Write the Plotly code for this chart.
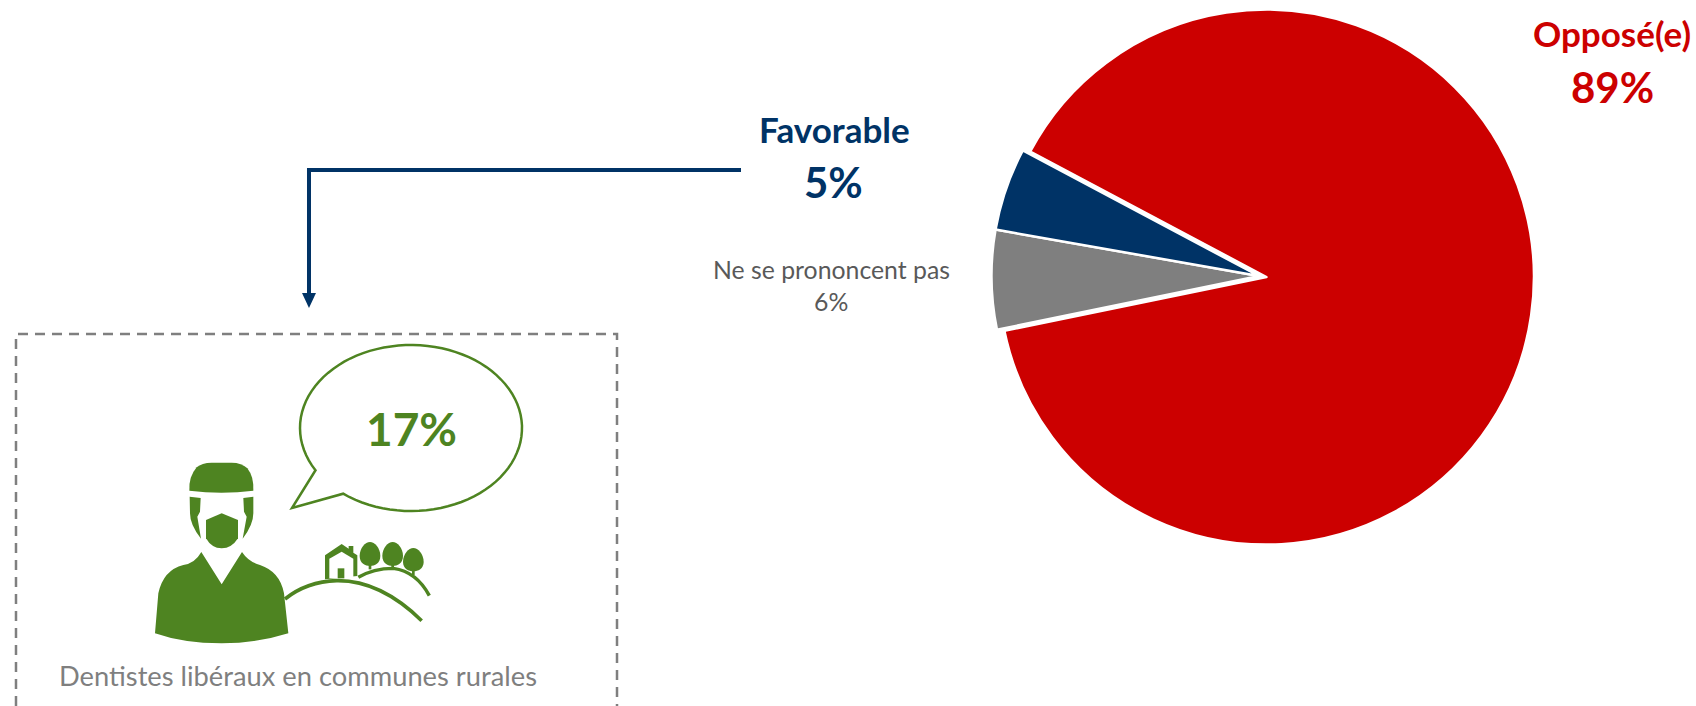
import re
import numpy as np
import plotly.graph_objects as go

W, H = 1696, 706
FONT = "Lato"
labels = ["Opposé(e)", "Ne se prononcent pas", "Favorable"]
values = [89, 6, 5]
slice_colors = ["#CC0000", "#7F7F7F", "#003366"]
GREEN = "#4E8421"
NAVY = "#003366"
GREY = "#7F7F7F"


def page(x, y):
    return x / W, 1 - y / H


def path_from(d, ox=0.0, oy=0.0, k=1.0):
    """Turn an 'x,y' path in pixels (optionally offset and scaled) into paper units."""
    def rep(m):
        px, py = page(ox + float(m.group(1)) * k, oy + float(m.group(2)) * k)
        return f"{px:.5f},{py:.5f}"
    return re.sub(r"(-?[\d.]+),(-?[\d.]+)", rep, d)


shapes = []


def add(d, fill=None, line=None, width=0, dash=None, **kw):
    s = dict(type="path", xref="paper", yref="paper", path=path_from(d, **kw),
             line=dict(width=width, color=line or "rgba(0,0,0,0)"))
    if dash:
        s["line"]["dash"] = dash
    if fill:
        s["fillcolor"] = fill
    shapes.append(s)


# connector with arrow head
add("M 741,170 L 309,170 L 309,295", line=NAVY, width=4)
add("M 302,293 L 316,293 L 309,308 Z", fill=NAVY)

# dashed frame (open at the bottom)
add("M 16,706 L 16,334 L 617,334 L 617,706", line=GREY, width=2.5, dash="10px,7px")

# speech bubble
cx, cy, rx, ry = 411, 428, 111, 83
a0 = np.arctan2((493 - cy) / ry, (344 - cx) / rx)
a1 = np.arctan2((470 - cy) / ry, (316 - cx) / rx)
if a1 > a0:
    a1 -= 2 * np.pi
angles = np.linspace(a0, a1, 90)
pts = " L ".join(f"{cx + rx*np.cos(a):.1f},{cy + ry*np.sin(a):.1f}" for a in angles)
add(f"M {pts} L 292,508 Z", line=GREEN, width=2.5, fill="white")

# dentist icon, drawn in the 3x crop space
icon = dict(ox=140, oy=450, k=1 / 3)
add("M 148,122 Q 146,80 170,52 Q 185,38 215,38 L 275,38 Q 305,38 322,55 Q 342,80 340,122 "
    "Q 245,135 148,122 Z", fill=GREEN, **icon)
add("M 149,140 L 182,144 L 180,185 L 172,200 L 183,266 Q 150,225 150,190 Z", fill=GREEN, **icon)
add("M 340,140 L 310,144 L 312,185 L 320,200 L 308,266 Q 340,225 340,190 Z", fill=GREEN, **icon)
add("M 198,210 L 245,190 L 294,210 L 294,265 Q 275,295 245,295 Q 215,295 198,265 Z", fill=GREEN, **icon)
add("M 184,306 L 245,403 L 306,306 Q 325,335 360,345 Q 420,365 432,430 L 445,550 "
    "Q 350,580 245,580 Q 130,580 45,550 L 55,430 Q 70,360 130,345 Q 165,340 184,306 Z",
    fill=GREEN, **icon)
# hills
add("M 435,447 Q 500,395 590,392 Q 720,390 845,512", line=GREEN, width=3.6, **icon)
add("M 655,382 Q 700,355 760,355 Q 830,365 868,437", line=GREEN, width=3.4, **icon)
# house
add("M 555,388 L 555,316 L 605,282 L 626,296 L 626,288 L 640,288 L 640,308 L 652,316 L 652,378 Z",
    fill=GREEN, **icon)
add("M 568,385 L 568,326 L 605,305 L 640,326 L 640,375 L 640,385 Z", fill="white", **icon)
add("M 593,385 L 593,355 L 613,355 L 613,385 Z", fill=GREEN, **icon)
# trees
for tx, top, bottom, trunk in [(690, 276, 348, 358), (758, 276, 348, 355), (820, 294, 364, 375)]:
    add(f"M {tx},{top} C {tx+14},{top} {tx+31},{top+18} {tx+31},{top+42} "
        f"C {tx+31},{bottom-8} {tx+14},{bottom} {tx},{bottom} "
        f"C {tx-14},{bottom} {tx-31},{bottom-8} {tx-31},{top+42} "
        f"C {tx-31},{top+18} {tx-14},{top} {tx},{top} Z", fill=GREEN, **icon)
    add(f"M {tx-4},{bottom-5} L {tx+4},{bottom-5} L {tx+4},{trunk} L {tx-4},{trunk} Z", fill=GREEN, **icon)

# text
annotations = []


def text(t, x, y, size, color, bold=False):
    px, py = page(x, y)
    annotations.append(dict(text=f"<b>{t}</b>" if bold else t, x=px, y=py, xref="paper", yref="paper",
                            xanchor="center", yanchor="middle", showarrow=False,
                            font=dict(family=FONT, size=size, color=color)))


text("Opposé(e)", 1612, 33, 35, slice_colors[0], True)
text("89%", 1612, 87, 42, slice_colors[0], True)
text("Favorable", 834, 129, 35, NAVY, True)
text("5%", 833, 182, 42, NAVY, True)
text("Ne se prononcent pas", 831, 269, 24.8, "#595959")
text("6%", 831, 301, 24.8, "#595959")
text("17%", 411, 428, 46, GREEN, True)
text("Dentistes libéraux en communes rurales", 298, 675, 27.3, GREY)

pie = go.Pie(labels=labels, values=values, sort=False, direction="clockwise", rotation=298,
             pull=[0.028, 0, 0],
             marker=dict(colors=slice_colors, line=dict(color="white", width=2.5)),
             textinfo="none", hoverinfo="label+percent", showlegend=False,
             domain=dict(x=[(1259 - 275) / W, (1259 + 275) / W], y=[1 - 551 / H, 1 - 1 / H]))

fig = go.Figure(pie)
fig.update_layout(width=W, height=H, margin=dict(l=0, r=0, t=0, b=0), paper_bgcolor="white",
                  plot_bgcolor="white", shapes=shapes, annotations=annotations)
fig.write_html("out.html", config=dict(displayModeBar=False),
               post_script="document.body.style.margin='0';document.body.style.overflow='hidden';")
